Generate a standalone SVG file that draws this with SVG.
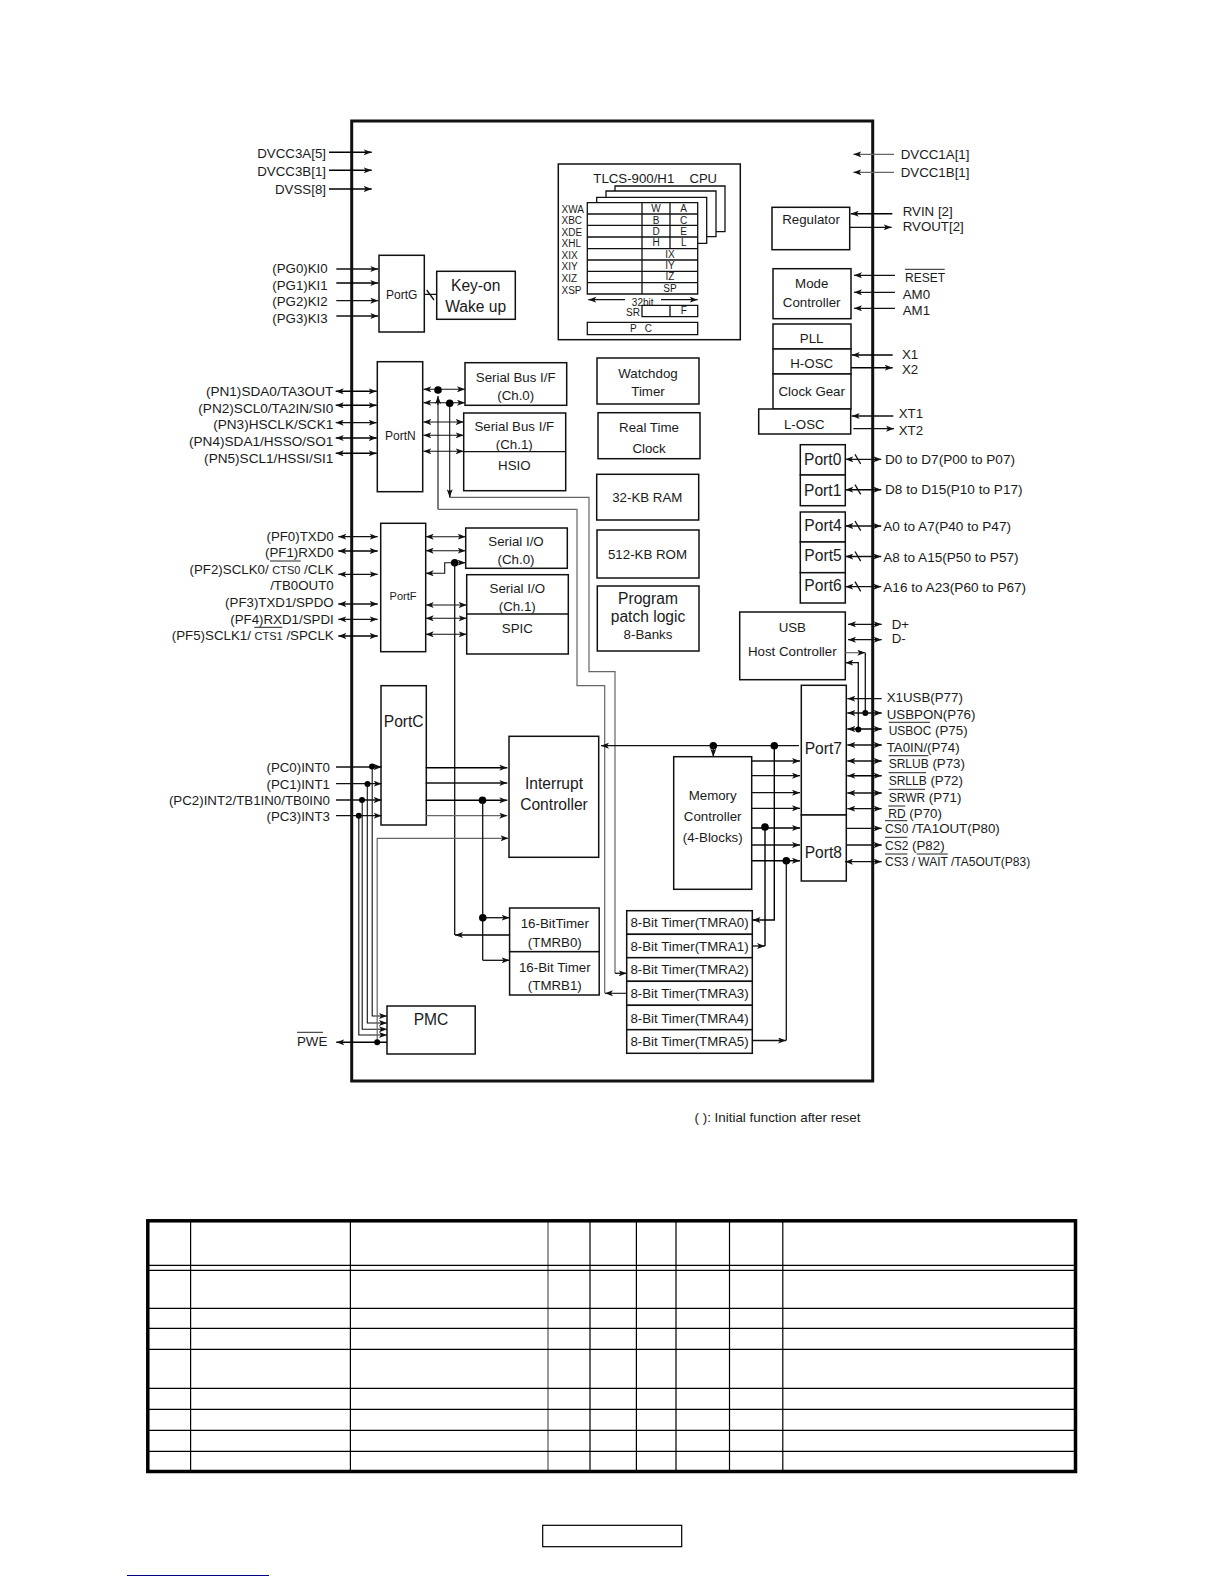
<svg xmlns="http://www.w3.org/2000/svg" width="1224" height="1584" viewBox="0 0 1224 1584">
<style>
text{font-family:"Liberation Sans",Arial,sans-serif;font-size:13.3px;fill:#1a1a1a}
.e{text-anchor:end}.m{text-anchor:middle}
.s10{font-size:10px}.s11{font-size:11px}.s12{font-size:12px}.s15{font-size:15.6px}.w{font-size:13.6px}
rect.b{fill:#fff;stroke:#111;stroke-width:1.5}
.l{fill:none;stroke:#111;stroke-width:1.3}
.g{fill:none;stroke:#666;stroke-width:1.2}
.th{fill:none;stroke:#111;stroke-width:1.1}
.o{stroke:#222;stroke-width:1}
.r{marker-end:url(#a)}
.d{marker-start:url(#a);marker-end:url(#a)}
.q{fill:#000}
.t{stroke:#000;fill:none;stroke-width:1.4}
</style>
<defs>
<marker id="a" viewBox="0 0 8 6" refX="8" refY="3" markerWidth="8" markerHeight="6" markerUnits="userSpaceOnUse" orient="auto-start-reverse"><path d="M0,0L8,3L0,6L2,3z" fill="#111"/></marker>
</defs>
<rect width="1224" height="1584" fill="#fff"/>
<rect id="chip" x="351.7" y="121" width="521" height="960" fill="none" stroke="#111" stroke-width="3"/>

<g id="PortG"><rect class="b" x="379" y="255.3" width="45.3" height="76.7"/><text class="m s12" x="401.7" y="298.6">PortG</text></g>
<g id="KeyOn"><rect class="b" x="436.7" y="271.3" width="78.6" height="48"/><text class="m s15" x="475.7" y="291.3">Key-on</text><text class="m s15" x="475.7" y="311.7">Wake up</text></g>
<g id="PortN"><rect class="b" x="377.3" y="361.7" width="45.4" height="130"/><text class="m s12" x="400.3" y="440">PortN</text></g>
<g id="SBI0"><rect class="b" x="465" y="362.7" width="101.7" height="42.6"/><text class="m" x="515.7" y="381.7">Serial Bus I/F</text><text class="m" x="515.7" y="400">(Ch.0)</text></g>
<g id="SBI1"><rect class="b" x="463.7" y="413" width="102" height="77.7"/><path class="l" d="M463.7,451.7H565.7"/><text class="m" x="514.3" y="431">Serial Bus I/F</text><text class="m" x="514.3" y="449.3">(Ch.1)</text><text class="m" x="514.3" y="470">HSIO</text></g>
<g id="PortF"><rect class="b" x="380.7" y="523.3" width="45" height="128.4"/><text class="m s11" x="403" y="600">PortF</text></g>
<g id="SIO0"><rect class="b" x="465.7" y="528" width="101.6" height="40.3"/><text class="m" x="516" y="546">Serial I/O</text><text class="m" x="516" y="564.3">(Ch.0)</text></g>
<g id="SIO1"><rect class="b" x="466.7" y="574.7" width="101.6" height="79.3"/><path class="l" d="M466.7,614H568.3"/><text class="m" x="517.3" y="592.7">Serial I/O</text><text class="m" x="517.3" y="611">(Ch.1)</text><text class="m" x="517.3" y="632.7">SPIC</text></g>
<g id="PortC"><rect class="b" x="381" y="685.7" width="45.3" height="139.3"/><text class="m s15" x="403.7" y="726.7">PortC</text></g>
<g id="IntC"><rect class="b" x="509" y="736.3" width="89.7" height="121"/><text class="m s15" x="554" y="789.3">Interrupt</text><text class="m s15" x="554" y="810">Controller</text></g>
<g id="TMRB0"><rect class="b" x="509.6" y="908" width="89.6" height="43.7"/><text class="m" x="554.8" y="928.3">16-BitTimer</text><text class="m" x="554.8" y="946.7">(TMRB0)</text></g>
<g id="TMRB1"><rect class="b" x="509.6" y="951.7" width="89.6" height="43.3"/><text class="m" x="554.8" y="971.7">16-Bit Timer</text><text class="m" x="554.8" y="990">(TMRB1)</text></g>
<g id="PMC"><rect class="b" x="387" y="1006" width="88.2" height="48"/><text class="m s15" x="431" y="1025.3">PMC</text></g>

<g id="CPU">
<rect class="b" x="558.3" y="164" width="182" height="175.7"/>
<text x="593.3" y="183.3" textLength="81" lengthAdjust="spacingAndGlyphs">TLCS-900/H1</text><text x="689.5" y="183.3" textLength="27.5" lengthAdjust="spacingAndGlyphs">CPU</text>
<path class="l" d="M615,191V186H725V231.7H716M606,197.3V191H716V236.7H706.7M596.7,202.7V197.3H706.7V243.3H697.7"/>
<path class="l" d="M587.3,202.7H697.7V294H587.3ZM587.3,214H697.7M587.3,225.3H697.7M587.3,237H697.7M587.3,248.7H697.7M587.3,260H697.7M587.3,271.3H697.7M587.3,282.7H697.7M642,202.7V294M670,202.7V248.7"/>
<text class="s10" x="561.5" y="212.7">XWA</text><text class="s10" x="561.5" y="224">XBC</text><text class="s10" x="561.5" y="235.7">XDE</text><text class="s10" x="561.5" y="247.4">XHL</text><text class="s10" x="561.5" y="259">XIX</text><text class="s10" x="561.5" y="270.4">XIY</text><text class="s10" x="561.5" y="282">XIZ</text><text class="s10" x="561.5" y="293.7">XSP</text>
<text class="s10 m" x="656" y="212.4">W</text><text class="s10 m" x="683.7" y="212.4">A</text><text class="s10 m" x="656" y="223.7">B</text><text class="s10 m" x="683.7" y="223.7">C</text><text class="s10 m" x="656" y="235">D</text><text class="s10 m" x="683.7" y="235">E</text><text class="s10 m" x="656" y="246.4">H</text><text class="s10 m" x="683.7" y="246.4">L</text>
<text class="s10 m" x="670" y="257.7">IX</text><text class="s10 m" x="670" y="269">IY</text><text class="s10 m" x="670" y="280.4">IZ</text><text class="s10 m" x="670" y="291.7">SP</text>
<text class="s10 m" x="642.7" y="305.7">32bit</text><text class="s10 e" x="640" y="315.7">SR</text><text class="s10 m" x="683.7" y="314">F</text><text class="s10 m" x="641" y="332.3" xml:space="preserve">P   C</text>
<path class="l r" d="M625,299.7H588.3"/><path class="l r" d="M661,299.7H697.7"/>
<path class="l" d="M642,305.3H697.7V316.7H642ZM670,305.3V316.7M587.3,322.3H697.7V334.7H587.3Z"/>
</g>
<g id="Watchdog"><rect class="b" x="597" y="358" width="102" height="46"/><text class="m" x="648" y="378.3">Watchdog</text><text class="m" x="648" y="396">Timer</text></g>
<g id="RTC"><rect class="b" x="598" y="412.7" width="102" height="46"/><text class="m" x="649" y="432">Real Time</text><text class="m" x="649" y="453.3">Clock</text></g>
<g id="RAM"><rect class="b" x="596.7" y="474.3" width="102" height="45.7"/><text class="m" x="647.3" y="501.7">32-KB RAM</text></g>
<g id="ROM"><rect class="b" x="597" y="530" width="102" height="48"/><text class="m" x="647.5" y="558.5">512-KB ROM</text></g>
<g id="Patch"><rect class="b" x="597.3" y="586" width="101.7" height="65"/><text class="m s15" x="648" y="604">Program</text><text class="m s15" x="648" y="621.7">patch logic</text><text class="m" x="648" y="639.3">8-Banks</text></g>
<g id="Regulator"><rect class="b" x="772" y="207.3" width="77.7" height="42.4"/><text class="m" x="811" y="224">Regulator</text></g>
<g id="ModeCtl"><rect class="b" x="773" y="268.7" width="78" height="50"/><text class="m" x="811.7" y="288.3">Mode</text><text class="m" x="811.7" y="306.7">Controller</text></g>
<g id="PLL"><rect class="b" x="773" y="324" width="78" height="25"/><text class="m" x="811.7" y="343.3">PLL</text></g>
<g id="HOSC"><rect class="b" x="773" y="349" width="78" height="25"/><text class="m" x="811.7" y="368.3">H-OSC</text></g>
<g id="ClockGear"><rect class="b" x="773" y="374" width="78" height="35"/><text class="m" x="811.7" y="395.7">Clock Gear</text></g>
<g id="LOSC"><rect class="b" x="758.7" y="409" width="92" height="25"/><text class="m" x="804.3" y="429">L-OSC</text></g>
<g id="Port0"><rect class="b" x="800.3" y="444.7" width="45" height="30.3"/><text class="m s15" x="822.7" y="465">Port0</text></g>
<g id="Port1"><rect class="b" x="800.3" y="475" width="45" height="30.7"/><text class="m s15" x="822.7" y="495.7">Port1</text></g>
<g id="Port4"><rect class="b" x="800.3" y="512" width="45" height="30"/><text class="m s15" x="823" y="531">Port4</text></g>
<g id="Port5"><rect class="b" x="800.3" y="542" width="45" height="30.7"/><text class="m s15" x="823" y="561">Port5</text></g>
<g id="Port6"><rect class="b" x="800.3" y="572.7" width="45" height="30.3"/><text class="m s15" x="823" y="591">Port6</text></g>
<g id="USB"><rect class="b" x="739.7" y="612" width="105.6" height="67.7"/><text class="m" x="792.3" y="631.7">USB</text><text class="m" x="792.3" y="656">Host Controller</text></g>
<g id="Port7"><rect class="b" x="801.3" y="685.3" width="45" height="129.7"/><text class="m s15" x="823.3" y="754">Port7</text></g>
<g id="Port8"><rect class="b" x="801.3" y="815" width="45" height="66"/><text class="m s15" x="823.3" y="858.3">Port8</text></g>
<g id="Memory"><rect class="b" x="673.7" y="756.7" width="78" height="132.6"/><text class="m" x="712.7" y="800">Memory</text><text class="m" x="712.7" y="821">Controller</text><text class="m" x="712.7" y="841.7">(4-Blocks)</text></g>
<g id="TMRA0"><rect class="b" x="626.7" y="910.7" width="125.6" height="23.6"/><text class="m" x="689.5" y="927.3">8-Bit Timer(TMRA0)</text></g>
<g id="TMRA1"><rect class="b" x="626.7" y="934.3" width="125.6" height="23.4"/><text class="m" x="689.5" y="951">8-Bit Timer(TMRA1)</text></g>
<g id="TMRA2"><rect class="b" x="626.7" y="957.7" width="125.6" height="23.6"/><text class="m" x="689.5" y="974.3">8-Bit Timer(TMRA2)</text></g>
<g id="TMRA3"><rect class="b" x="626.7" y="981.3" width="125.6" height="24"/><text class="m" x="689.5" y="998">8-Bit Timer(TMRA3)</text></g>
<g id="TMRA4"><rect class="b" x="626.7" y="1005.3" width="125.6" height="24.4"/><text class="m" x="689.5" y="1022.7">8-Bit Timer(TMRA4)</text></g>
<g id="TMRA5"><rect class="b" x="626.7" y="1029.7" width="125.6" height="23.6"/><text class="m" x="689.5" y="1046">8-Bit Timer(TMRA5)</text></g>

<g id="connectors">
<path class="t r" d="M329,152.3H371.7"/><path class="t r" d="M329,170.3H371.7"/><path class="t r" d="M329,189H371.7"/>
<path class="l r" d="M336.3,269H378.3"/><path class="t r" d="M336.3,283H378.3"/><path class="l r" d="M336.3,300.7H378.3"/><path class="l r" d="M336.3,316H378.3"/>
<path class="l" d="M424.3,294.3H436.7M426.7,290L434,300"/>
<path class="t d" d="M335.7,391.3H376.7"/><path class="t d" d="M335.7,405.3H376.7"/><path class="l d" d="M335.7,422.7H376.7"/><path class="t d" d="M335.7,438H376.7"/><path class="t d" d="M335.7,453.3H376.7"/>
<path class="th d" d="M423.3,389.3H465"/><path class="th d" d="M423.3,402.7H465"/><path class="th d" d="M423.3,422H463.7"/><path class="th d" d="M423.3,435.3H463.7"/><path class="th d" d="M423.3,451.3H463.7"/>
<path class="th" d="M438,403V509.3"/><path class="th" d="M449.7,403.3V497.3"/>
<path class="g" d="M438,509.3H577V685.7H604.7V993.3"/>
<path class="g" d="M449.7,497.3H589V671.7H615V973.3"/>
<path class="l r" d="M615,973.3H626.7"/><path class="th r" d="M626.7,993.3H605"/>
<path class="l r" d="M438,405V396"/>
<path class="l r" d="M449.7,490V497.3"/>
<circle class="q" cx="438" cy="390" r="3.8"/><circle class="q" cx="449.7" cy="403.3" r="3.8"/>
<path class="l d" d="M338.3,536.7H377.7"/><path class="t d" d="M338.3,551H377.7"/><path class="l d" d="M338.3,574.3H377.7"/><path class="l d" d="M338.3,604H377.7"/><path class="l d" d="M338.3,619.3H377.7"/><path class="t d" d="M338.3,636H377.7"/>
<path class="th d" d="M425.7,536.7H465.7"/><path class="th d" d="M425.7,550.7H465.7"/>
<path class="th d" d="M425.7,573.3H444.7V562.7H465.7"/>
<path class="th d" d="M425.7,605H466.7"/><path class="th d" d="M425.7,618.3H466.7"/><path class="th d" d="M425.7,634.3H466.7"/>
<circle class="q" cx="454.7" cy="562.7" r="3.8"/>
<path class="l" d="M454.7,562.7V935"/><path class="t r" d="M509,935H455"/>
<path class="l r" d="M336,767H381.7"/><path class="l r" d="M336,783.7H381.7"/><path class="l r" d="M336,800H381.7"/><path class="l r" d="M336,815.7H381.7"/>
<circle class="q" cx="372" cy="766.6" r="3"/><circle class="q" cx="367.5" cy="784" r="3"/><circle class="q" cx="362" cy="800" r="3"/><circle class="q" cx="358.8" cy="815.7" r="3"/>
<path class="th r" d="M372.2,767V1016H387"/><path class="th r" d="M367.3,784V1023H387"/><path class="th r" d="M362.2,800V1029.3H387"/><path class="th r" d="M358.8,816V1035H387"/>
<path class="g r" d="M377.2,1042V838.3H508.5"/>
<path class="t r" d="M387,1042.3H336.3"/><circle class="q" cx="377.2" cy="1042.3" r="3"/>
<path class="t r" d="M425.7,767.7H507.3"/><path class="l r" d="M425.7,783H507.3"/><path class="t r" d="M425.7,800.3H507.3"/><path class="g r" d="M425.7,815.7H507.3"/>
<circle class="q" cx="482.5" cy="800.3" r="3.8"/><path class="l" d="M482.7,800.3V960.3"/><circle class="q" cx="482.8" cy="917.7" r="3.8"/>
<path class="l r" d="M482.8,917.7H509.6"/><path class="l r" d="M482.7,960.3H509.6"/>
<path class="g r" d="M894,154.3H853.3"/><path class="g r" d="M894,172.3H853.3"/>
<path class="t r" d="M892.3,213.7H850.7"/><path class="l r" d="M849.7,227.3H891.7"/>
<path class="l r" d="M895,275.3H854"/><path class="l r" d="M895,292.3H854"/><path class="l r" d="M895,308.3H854"/>
<path class="t r" d="M892.7,355H851.7"/><path class="t r" d="M851,367.7H892.7"/>
<path class="l r" d="M893.3,416H851.7"/><path class="l r" d="M853.3,428.7H894"/>
<path class="l d" d="M845.3,459.3H881.3"/><path class="t d" d="M845.3,489.7H881.3"/><path class="l d" d="M845.3,526H881.3"/><path class="l d" d="M845.3,556.5H881.3"/><path class="l d" d="M845.3,586.7H881.3"/>
<path class="l" d="M855,454.3L860.7,464M855,484.7L860.7,494.4M855,521L860.7,530.7M855,551.5L860.7,561.2M855,581.7L860.7,591.4"/>
<path class="l d" d="M848,624.3H881.7"/><path class="l d" d="M848,639.7H881.7"/>
<path class="g r" d="M845.3,652.7H865.3"/><path class="l" d="M865.3,652.7V713"/><path class="l r" d="M858.3,730V662.7H845.3"/>
<circle class="q" cx="865.3" cy="713" r="3"/><circle class="q" cx="858.3" cy="729.5" r="3"/>
<path class="l r" d="M881.7,698.7H847.3"/><path class="l d" d="M847.3,713H881.7"/><path class="t d" d="M847.3,729H881.7"/><path class="l d" d="M847.3,745H881.7"/><path class="l d" d="M847.3,761H881.7"/><path class="t d" d="M847.3,775.7H881.7"/><path class="l d" d="M847.3,793H881.7"/><path class="l d" d="M847.3,808.7H881.7"/>
<path class="l r" d="M846.3,828.3H881.7"/><path class="l r" d="M846.3,845H881.7"/><path class="l d" d="M845,861.7H881.7"/>
<path class="l r" d="M799,745.7H601"/>
<circle class="q" cx="713.3" cy="745.7" r="3.8"/><circle class="q" cx="774.3" cy="745.7" r="3.8"/>
<path class="l r" d="M713.3,745.7V756.7"/>
<path class="l r" d="M751.7,761H800"/><path class="l r" d="M751.7,775.7H800"/><path class="l r" d="M751.7,792.7H800"/><path class="l r" d="M751.7,808.3H800"/><path class="t r" d="M751.7,828H800"/><path class="l r" d="M751.7,845H800"/><path class="t r" d="M751.7,860.7H800"/>
<circle class="q" cx="765" cy="827" r="3.8"/><circle class="q" cx="786.3" cy="860.7" r="3.8"/>
<path class="t" d="M765,827V946"/><path class="l r" d="M752.5,946H765"/>
<path class="t r" d="M774.3,745.7V920H752.5"/>
<path class="l" d="M786.3,860.7V1040.5"/><path class="l r" d="M752.5,1040.5H786"/>
</g>

<g id="labels">
<text class="e" x="326" y="157.7">DVCC3A[5]</text><text class="e" x="326" y="175.5">DVCC3B[1]</text><text class="e" x="326" y="194">DVSS[8]</text>
<text class="e" x="327.7" y="273.3">(PG0)KI0</text><text class="e" x="327.7" y="289.7">(PG1)KI1</text><text class="e" x="327.7" y="306.3">(PG2)KI2</text><text class="e" x="327.7" y="322.7">(PG3)KI3</text>
<text class="e w" x="333.3" y="396.3">(PN1)SDA0/TA3OUT</text><text class="e w" x="333.3" y="412.7">(PN2)SCL0/TA2IN/SI0</text><text class="e w" x="333.3" y="429.3">(PN3)HSCLK/SCK1</text><text class="e w" x="333.3" y="446">(PN4)SDA1/HSSO/SO1</text><text class="e w" x="333.3" y="462.7">(PN5)SCL1/HSSI/SI1</text>
<text class="e" x="333.7" y="540.7">(PF0)TXD0</text><text class="e" x="333.7" y="557">(PF1)RXD0</text><text class="e" x="333.7" y="573.7">(PF2)SCLK0/ <tspan class="s11">CTS0</tspan> /CLK</text><text class="e" x="333.7" y="590.3">/TB0OUT0</text><text class="e" x="333.7" y="607">(PF3)TXD1/SPDO</text><text class="e" x="333.7" y="623.7">(PF4)RXD1/SPDI</text><text class="e" x="333.7" y="640">(PF5)SCLK1/ <tspan class="s11">CTS1</tspan> /SPCLK</text>
<path class="o" d="M270,561H300.7M254.3,627.3H282.3"/>
<text class="e" x="330" y="771.7">(PC0)INT0</text><text class="e" x="330" y="788.7">(PC1)INT1</text><text class="e" x="330" y="805">(PC2)INT2/TB1IN0/TB0IN0</text><text class="e" x="330" y="821">(PC3)INT3</text>
<text x="297" y="1046">PWE</text><path class="o" d="M297,1032.3H323"/>
<text x="900.7" y="159.3">DVCC1A[1]</text><text x="900.7" y="177.3">DVCC1B[1]</text>
<text x="902.7" y="216">RVIN [2]</text><text x="902.7" y="231.3">RVOUT[2]</text>
<text x="905" y="282.3" class="s12">RESET</text><path class="o" d="M905,269.3H944.7"/><text x="902.7" y="298.7">AM0</text><text x="902.7" y="315.3">AM1</text>
<text x="902" y="359.3">X1</text><text x="902" y="373.7">X2</text><text x="898.7" y="418.3">XT1</text><text x="898.7" y="435">XT2</text>
<text class="w" x="885" y="463.7">D0 to D7(P00 to P07)</text><text class="w" x="885" y="494.3">D8 to D15(P10 to P17)</text>
<text class="w" x="883.3" y="531">A0 to A7(P40 to P47)</text><text class="w" x="883.3" y="561.5">A8 to A15(P50 to P57)</text><text class="w" x="883.3" y="591.5">A16 to A23(P60 to P67)</text>
<text x="891.7" y="629">D+</text><text x="891.7" y="643">D-</text>
<text x="886.7" y="702">X1USB(P77)</text><text x="886.7" y="718.7">USBPON(P76)</text>
<text x="888.7" y="735.3"><tspan class="s12">USBOC</tspan> (P75)</text><path class="o" d="M888.7,722.3H930"/>
<text x="886.7" y="751.7">TA0IN/(P74)</text>
<text x="888.7" y="768.3"><tspan class="s12">SRLUB</tspan> (P73)</text><path class="o" d="M888.7,755.7H928.3"/>
<text x="888.7" y="785"><tspan class="s12">SRLLB</tspan> (P72)</text><path class="o" d="M888.7,772.7H926"/>
<text x="888.7" y="801.7"><tspan class="s12">SRWR</tspan> (P71)</text><path class="o" d="M888.7,789.3H925"/>
<text x="888.3" y="817.7"><tspan class="s12">RD</tspan> (P70)</text><path class="o" d="M888.3,806H905.3"/>
<text x="885" y="832.7"><tspan class="s12">CS0</tspan> /TA1OUT(P80)</text><path class="o" d="M885,820.7H907.3"/>
<text x="885" y="850"><tspan class="s12">CS2</tspan> (P82)</text><path class="o" d="M885,837.3H907.3"/>
<text x="885" y="866" class="s12">CS3 / WAIT  /TA5OUT(P83)</text><path class="o" d="M885,854H907.3M916.7,854H947.7"/>
<text x="694.5" y="1121.7" style="font-size:13.4px">( ): Initial function after reset</text>
</g>

<g id="table">
<rect x="147.8" y="1220.8" width="927.7" height="250.7" fill="none" stroke="#000" stroke-width="3.5"/>
<path fill="none" stroke="#000" stroke-width="1.2" d="M190.6,1221V1471M350.4,1221V1471M590,1221V1471M636.4,1221V1471M676,1221V1471M729.5,1221V1471M782.8,1221V1471M149,1265.3H1075M149,1270.3H1075M149,1308.3H1075M149,1328.3H1075M149,1349.3H1075M149,1388.3H1075M149,1409.3H1075M149,1430.3H1075M149,1451.3H1075"/>
<path fill="none" stroke="#000" stroke-width=".8" d="M548,1221V1471"/>
</g>
<rect id="footer" x="542.7" y="1525.3" width="139" height="21.4" fill="none" stroke="#000" stroke-width="1.2"/>
<path id="link" d="M127,1575.5H269" stroke="#000080" stroke-width="1"/>
</svg>
